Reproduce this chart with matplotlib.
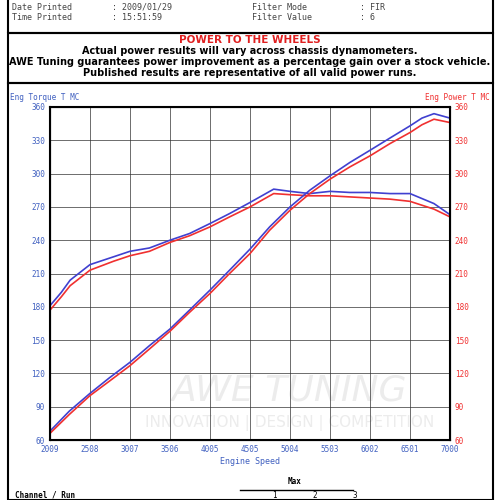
import matplotlib.pyplot as plt
import numpy as np

rpm_ticks = [2009, 2508, 3007, 3506, 4005, 4505, 5004, 5503, 6002, 6501, 7000]
y_ticks = list(range(60, 361, 30))

tq_rpm = [2009, 2150, 2260, 2508, 2800, 3007, 3250, 3506, 3750, 4005, 4250, 4505, 4800, 5004, 5250, 5503, 5750, 6002, 6250, 6501, 6800, 7000]
tq_blue = [181, 193, 204, 218, 225, 230, 233, 240, 246, 255, 264, 274, 286, 284, 282, 284, 283, 283, 282, 282, 273, 263]
tq_red = [177, 189, 199, 213, 221, 226, 230, 238, 244, 252, 261, 270, 282, 281, 280, 280, 279, 278, 277, 275, 268, 261]

pw_rpm = [2009, 2250, 2508, 2750, 3007, 3250, 3506, 3750, 4005, 4250, 4505, 4750, 5004, 5250, 5503, 5750, 6002, 6250, 6501, 6650, 6800, 7000]
pw_blue = [68, 86, 102, 116, 130, 145, 160, 177, 195, 213, 232, 252, 270, 285, 298, 310, 321, 332, 343, 350, 354, 350]
pw_red = [66, 83, 100, 113, 127, 142, 158, 175, 192, 210, 228, 249, 267, 282, 295, 306, 316, 327, 337, 344, 349, 346]

fig = plt.figure(figsize=(5, 5), dpi=100)
fig.patch.set_facecolor('white')
mono = 'DejaVu Sans Mono'

# header
fig.add_artist(plt.Rectangle((0.015, 0.935), 0.97, 0.07, transform=fig.transFigure, fill=False, lw=1.5, color='black'))
fig.text(0.025, 0.986, 'Date Printed', family=mono, fontsize=6, color='#444', va='center')
fig.text(0.025, 0.964, 'Time Printed', family=mono, fontsize=6, color='#444', va='center')
fig.text(0.225, 0.986, ': 2009/01/29', family=mono, fontsize=6, color='#444', va='center')
fig.text(0.225, 0.964, ': 15:51:59', family=mono, fontsize=6, color='#444', va='center')
fig.text(0.505, 0.986, 'Filter Mode', family=mono, fontsize=6, color='#444', va='center')
fig.text(0.505, 0.964, 'Filter Value', family=mono, fontsize=6, color='#444', va='center')
fig.text(0.72, 0.986, ': FIR', family=mono, fontsize=6, color='#444', va='center')
fig.text(0.72, 0.964, ': 6', family=mono, fontsize=6, color='#444', va='center')

fig.add_artist(plt.Rectangle((0.015, 0.835), 0.97, 0.10, transform=fig.transFigure, fill=False, lw=1.5, color='black'))
fig.text(0.5, 0.92, 'POWER TO THE WHEELS', color='#e02020', fontsize=7.5, weight='bold', ha='center', va='center')
fig.text(0.5, 0.898, 'Actual power results will vary across chassis dynamometers.', fontsize=7, weight='bold', ha='center', va='center')
fig.text(0.5, 0.876, 'AWE Tuning guarantees power improvement as a percentage gain over a stock vehicle.', fontsize=7, weight='bold', ha='center', va='center')
fig.text(0.5, 0.854, 'Published results are representative of all valid power runs.', fontsize=7, weight='bold', ha='center', va='center')
fig.add_artist(plt.Rectangle((0.015, 0.0), 0.97, 0.835, transform=fig.transFigure, fill=False, lw=1.5, color='black'))

ax = fig.add_axes([0.1, 0.12, 0.8, 0.666])
ax.plot(tq_rpm, tq_blue, color='#4040d0', lw=1.2)
ax.plot(tq_rpm, tq_red, color='#f03030', lw=1.2)
ax.plot(pw_rpm, pw_blue, color='#4040d0', lw=1.2)
ax.plot(pw_rpm, pw_red, color='#f03030', lw=1.2)
ax.set_xlim(2009, 7000)
ax.set_ylim(60, 360)
ax.set_xticks(rpm_ticks)
ax.set_yticks(y_ticks)
ax.grid(True, color='#333', lw=0.5)
ax.tick_params(length=0, labelsize=5.5, colors='#4060c0')
for lbl in ax.get_xticklabels() + ax.get_yticklabels():
    lbl.set_family(mono)
for s in ax.spines.values():
    s.set_linewidth(1.5)
ax.set_xlabel('Engine Speed', family=mono, fontsize=6, color='#4060c0', labelpad=2)
ax2 = ax.twinx()
ax2.set_ylim(60, 360)
ax2.set_yticks(y_ticks)
ax2.tick_params(length=0, labelsize=5.5, colors='#f03030')
for lbl in ax2.get_yticklabels():
    lbl.set_family(mono)
fig.text(0.02, 0.80, 'Eng Torque T MC', family=mono, fontsize=5.5, color='#4060c0')
fig.text(0.98, 0.80, 'Eng Power T MC', family=mono, fontsize=5.5, color='#f03030', ha='right')

# watermark
ax.text(0.6, 0.15, 'AWE TUNING', transform=ax.transAxes, fontsize=26, style='italic', color='#ececec', ha='center', va='center', zorder=0)
ax.text(0.6, 0.05, 'INNOVATION | DESIGN | COMPETITION', transform=ax.transAxes, fontsize=11, color='#ececec', ha='center', va='center', zorder=0)

# footer table
fig.text(0.59, 0.032, 'Max', family=mono, fontsize=5.5, ha='center', weight='bold')
fig.add_artist(plt.Line2D([0.48, 0.705], [0.02, 0.02], transform=fig.transFigure, color='black', lw=1))
fig.text(0.03, 0.0, 'Channel / Run', family=mono, fontsize=5.5, weight='bold', va='bottom')
for x, t in zip([0.545, 0.625, 0.705], ['1', '2', '3']):
    fig.text(x, 0.0, t, family=mono, fontsize=5.5, va='bottom')

fig.savefig('out.png', dpi=100)
